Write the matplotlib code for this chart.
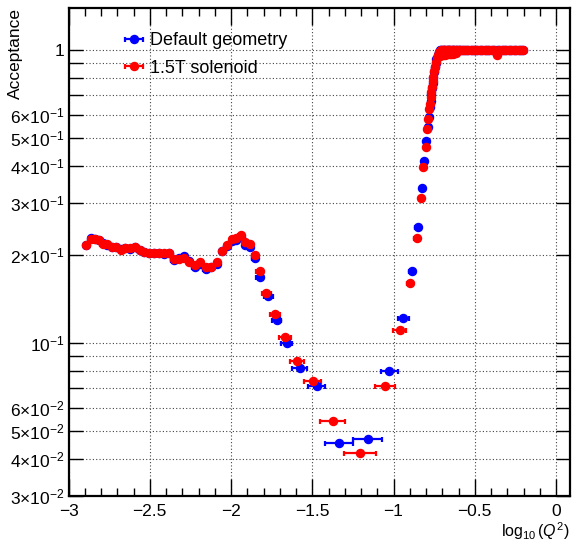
import matplotlib
matplotlib.use("Agg")
import matplotlib.pyplot as plt
from matplotlib.ticker import FixedLocator, FixedFormatter, MultipleLocator

plt.rcParams['font.family'] = ['Liberation Sans', 'DejaVu Sans']
plt.rcParams['mathtext.fontset'] = 'custom'
plt.rcParams['mathtext.rm'] = 'Liberation Sans'
plt.rcParams['mathtext.it'] = 'Liberation Sans:italic'
plt.rcParams['axes.unicode_minus'] = True

# ---------------- data ----------------
series_labels = ["Default geometry", "1.5T solenoid"]

red_x = [-2.891, -2.860, -2.840, -2.813, -2.789, -2.762, -2.733, -2.706, -2.675, -2.651,
         -2.620, -2.593, -2.563, -2.536, -2.505, -2.474, -2.444, -2.413, -2.384, -2.353,
         -2.322, -2.291, -2.259, -2.224, -2.189, -2.156, -2.121, -2.086, -2.053, -2.022,
         -1.994, -1.967, -1.940, -1.914, -1.885, -1.854, -1.824, -1.782, -1.731, -1.669,
         -1.593, -1.498, -1.375, -1.207, -1.053, -0.961, -0.899, -0.858, -0.833, -0.817,
         -0.802, -0.796, -0.786, -0.780, -0.775, -0.771, -0.768, -0.765, -0.760, -0.755,
         -0.750, -0.745, -0.740, -0.734, -0.726, -0.718, -0.710, -0.704,
         -0.715, -0.705, -0.695, -0.685, -0.675, -0.665, -0.655, -0.645, -0.635, -0.625, -0.615,
         -0.698, -0.690, -0.682, -0.674, -0.666, -0.658, -0.650, -0.642, -0.634, -0.626,
         -0.618, -0.610, -0.600, -0.590, -0.578, -0.566, -0.554, -0.540, -0.526, -0.512,
         -0.498, -0.484, -0.470, -0.455, -0.440, -0.425, -0.410, -0.395, -0.380, -0.361,
         -0.350, -0.335, -0.320, -0.305, -0.290, -0.275, -0.260, -0.245, -0.230, -0.215, -0.201]
red_y = [0.2155, 0.226, 0.226, 0.224, 0.218, 0.217, 0.213, 0.213, 0.208, 0.210,
         0.210, 0.213, 0.208, 0.204, 0.203, 0.203, 0.202, 0.202, 0.202, 0.193,
         0.193, 0.194, 0.188, 0.184, 0.188, 0.181, 0.182, 0.188, 0.206, 0.216,
         0.226, 0.228, 0.233, 0.220, 0.218, 0.200, 0.176, 0.148, 0.125, 0.105,
         0.0868, 0.0741, 0.0542, 0.0421, 0.0712, 0.1105, 0.1595, 0.227, 0.3126, 0.399,
         0.467, 0.535, 0.579, 0.626, 0.655, 0.691, 0.720, 0.748, 0.780, 0.809,
         0.843, 0.875, 0.905, 0.934, 0.962, 0.984, 0.995, 1.000,
         0.955, 0.958, 0.960, 0.962, 0.963, 0.965, 0.967, 0.968, 0.970, 0.972, 0.975,
         1.000, 0.998, 0.999, 0.997, 0.999, 0.998, 1.000, 0.998, 0.999, 0.997,
         0.999, 0.998, 1.000, 0.999, 0.998, 1.000, 0.999, 0.998, 1.000, 0.999,
         0.998, 1.000, 0.999, 0.998, 1.000, 0.999, 0.998, 1.000, 0.999, 0.959,
         0.998, 1.000, 0.999, 0.998, 1.000, 0.999, 0.998, 1.000, 0.999, 0.998, 1.000]
red_xerr = [0.015] * 36 + [0.020, 0.028, 0.030, 0.035, 0.044, 0.053, 0.075, 0.100, 0.060, 0.040,
                           0.020, 0.015] + [0.008] * 72

blue_x = [-2.891, -2.860, -2.840, -2.813, -2.789, -2.762, -2.733, -2.706, -2.675, -2.651,
          -2.620, -2.593, -2.563, -2.536, -2.505, -2.474, -2.444, -2.413, -2.384, -2.353,
          -2.322, -2.291, -2.259, -2.224, -2.189, -2.156, -2.121, -2.086, -2.053, -2.022,
          -1.994, -1.967, -1.940, -1.914, -1.885, -1.854, -1.824, -1.772, -1.720, -1.658,
          -1.577, -1.474, -1.335, -1.160, -1.026, -0.940, -0.887, -0.852, -0.827, -0.815,
          -0.800, -0.790, -0.780, -0.776, -0.772, -0.768, -0.764, -0.760, -0.756, -0.751,
          -0.746, -0.741, -0.736, -0.729, -0.721, -0.713, -0.706,
          -0.698, -0.690, -0.682, -0.674, -0.666, -0.658, -0.650, -0.642, -0.634, -0.626,
          -0.618, -0.610, -0.600, -0.590, -0.578, -0.566, -0.554, -0.540, -0.526, -0.512,
          -0.498, -0.484, -0.470, -0.455, -0.440, -0.425, -0.410, -0.395, -0.380, -0.365,
          -0.350, -0.335, -0.320, -0.305, -0.290, -0.275, -0.260, -0.245, -0.230, -0.215, -0.201]
blue_y = [0.2155, 0.227, 0.226, 0.224, 0.219, 0.216, 0.213, 0.212, 0.209, 0.210,
          0.209, 0.212, 0.208, 0.204, 0.203, 0.202, 0.202, 0.201, 0.202, 0.192,
          0.194, 0.198, 0.190, 0.182, 0.186, 0.179, 0.181, 0.186, 0.205, 0.214,
          0.222, 0.225, 0.229, 0.216, 0.212, 0.195, 0.167, 0.144, 0.120, 0.0996,
          0.0823, 0.0711, 0.0456, 0.0468, 0.0802, 0.121, 0.1757, 0.2476, 0.337, 0.417,
          0.489, 0.543, 0.590, 0.636, 0.670, 0.705, 0.738, 0.770, 0.802, 0.838,
          0.872, 0.903, 0.930, 0.960, 0.982, 0.994, 0.999,
          1.000, 0.999, 1.000, 0.999, 1.000, 0.999, 1.000, 0.999, 1.000, 0.999,
          1.000, 0.999, 1.000, 0.999, 1.000, 0.999, 1.000, 0.999, 1.000, 0.999,
          1.000, 0.999, 1.000, 0.999, 1.000, 0.999, 1.000, 0.999, 1.000, 0.999,
          1.000, 0.999, 1.000, 0.999, 1.000, 0.999, 1.000, 0.999, 1.000, 0.999, 1.000]
blue_xerr = [0.015] * 36 + [0.020, 0.028, 0.030, 0.035, 0.045, 0.055, 0.087, 0.090, 0.051, 0.035,
                            0.020, 0.015] + [0.008] * 60

y_major = [0.03, 0.04, 0.05, 0.06, 0.1, 0.2, 0.3, 0.4, 0.5, 0.6, 1.0]
y_major_labels = [r"$3{\times}10^{-2}$", r"$4{\times}10^{-2}$", r"$5{\times}10^{-2}$",
                  r"$6{\times}10^{-2}$", r"$10^{-1}$", r"$2{\times}10^{-1}$",
                  r"$3{\times}10^{-1}$", r"$4{\times}10^{-1}$", r"$5{\times}10^{-1}$",
                  r"$6{\times}10^{-1}$", "1"]
y_minor = [0.07, 0.08, 0.09, 0.7, 0.8, 0.9]
x_major = [-3, -2.5, -2, -1.5, -1, -0.5, 0]
x_major_labels = ["\u22123", "\u22122.5", "\u22122", "\u22121.5", "\u22121", "\u22120.5", "0"]

# ---------------- figure ----------------
fig = plt.figure(figsize=(5.72, 5.46), dpi=100)
ax = fig.add_axes([0.1198, 0.0916, 0.877, 0.8938])

ax.set_yscale('log')
ax.set_xlim(-3, 0.087)
ax.set_ylim(0.03, 1.388)

eb_kw = dict(fmt='o', ms=5.8, elinewidth=1.6, capsize=1.8, capthick=1.6, zorder=3)
hb = ax.errorbar(blue_x, blue_y, xerr=blue_xerr, color=(0, 0, 1), mec=(0, 0, 1), **eb_kw)
hr = ax.errorbar(red_x, red_y, xerr=red_xerr, color=(1, 0, 0), mec=(1, 0, 0), **eb_kw)

ax.yaxis.set_major_locator(FixedLocator(y_major))
ax.yaxis.set_major_formatter(FixedFormatter(y_major_labels))
ax.yaxis.set_minor_locator(FixedLocator(y_minor))
ax.xaxis.set_major_locator(FixedLocator(x_major))
ax.xaxis.set_major_formatter(FixedFormatter(x_major_labels))
ax.xaxis.set_minor_locator(MultipleLocator(0.1))

ax.tick_params(which='both', direction='in', top=True, right=True, labelsize=12.5)
ax.tick_params(axis='x', which='major', length=12, width=1, pad=5.5)
ax.tick_params(axis='x', which='minor', length=6, width=1)
ax.tick_params(axis='y', which='major', length=10, width=1, pad=3)
ax.tick_params(axis='y', which='minor', length=10, width=1)

ax.grid(True, axis='x', which='major', ls=(0, (1, 2)), color='#444444', lw=0.8)
ax.grid(True, axis='y', which='both', ls=(0, (1, 2)), color='#444444', lw=0.8)

for s in ax.spines.values():
    s.set_linewidth(1.6)

ax.set_ylabel("Acceptance", fontsize=12.5, loc='top', labelpad=2)
ax.yaxis.set_label_coords(-0.09, 1.0)
ax.set_xlabel(r"$\log_{10}(Q^{2})$", fontsize=11.5, loc='right')
ax.xaxis.set_label_coords(0.998, -0.05)

ax.legend([hb, hr], series_labels, loc='upper left', bbox_to_anchor=(0.108, 0.951),
          frameon=False, fontsize=13, handlelength=1.25, handletextpad=0.25,
          labelspacing=0.6, borderpad=0, borderaxespad=0)

fig.savefig("out.png", dpi=100)
